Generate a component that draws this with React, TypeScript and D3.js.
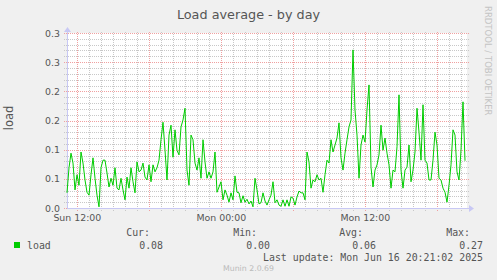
import React from "react";
import * as d3 from "d3";

// ---- data (load average, 10-minute samples starting Sun 11:08) ----
const startHour = 11.139;
const stepHours = 10 / 60;
const loadValues = [
  0.026, 0.069, 0.094, 0.077, 0.031, 0.057, 0.039, 0.096, 0.077, 0.048,
  0.027, 0.022, 0.057, 0.086, 0.051, 0.022, 0.002, 0.069, 0.082, 0.082,
  0.060, 0.036, 0.051, 0.039, 0.069, 0.034, 0.031, 0.051, 0.031, 0.014,
  0.053, 0.034, 0.069, 0.045, 0.026, 0.079, 0.062, 0.065, 0.077, 0.053,
  0.048, 0.074, 0.045, 0.074, 0.062, 0.069, 0.082, 0.117, 0.147, 0.099,
  0.048, 0.125, 0.142, 0.087, 0.134, 0.099, 0.091, 0.139, 0.151, 0.171,
  0.065, 0.039, 0.125, 0.117, 0.077, 0.065, 0.086, 0.051, 0.117, 0.079,
  0.051, 0.062, 0.051, 0.062, 0.096, 0.027, 0.036, 0.045, 0.014, 0.031,
  0.022, 0.010, 0.026, 0.014, 0.055, 0.027, 0.026, 0.009, 0.021, 0.010,
  0.015, 0.007, 0.012, 0.002, 0.051, 0.031, 0.007, 0.009, 0.026, 0.012,
  0.005, 0.014, 0.022, 0.045, 0.009, 0.014, 0.005, 0.003, 0.014, 0.003,
  0.014, 0.003, 0.019, 0.017, 0.005, 0.019, 0.029, 0.026, 0.026, 0.014,
  0.096, 0.079, 0.034, 0.048, 0.045, 0.057, 0.048, 0.051, 0.027, 0.057,
  0.082, 0.077, 0.117, 0.096, 0.108, 0.120, 0.146, 0.086, 0.065, 0.094,
  0.117, 0.139, 0.151, 0.271, 0.168, 0.125, 0.051, 0.108, 0.125, 0.113,
  0.168, 0.211, 0.070, 0.036, 0.065, 0.074, 0.091, 0.142, 0.099, 0.120,
  0.094, 0.074, 0.034, 0.065, 0.062, 0.105, 0.194, 0.065, 0.034, 0.065,
  0.070, 0.108, 0.045, 0.065, 0.096, 0.171, 0.130, 0.082, 0.177, 0.082,
  0.077, 0.048, 0.048, 0.082, 0.130, 0.108, 0.051, 0.048, 0.034, 0.027,
  0.010, 0.039, 0.074, 0.134, 0.125, 0.062, 0.048, 0.099, 0.182, 0.081,
];

const yTickValues = [0, 0.05, 0.1, 0.15, 0.2, 0.25, 0.3];
const yTickLabels = ["0.0", "0.1", "0.1", "0.2", "0.2", "0.3", "0.3"];
const xTickHours = [12, 24, 36];
const xTickLabels = ["Sun 12:00", "Mon 00:00", "Mon 12:00"];

const legendHeaders = ["Cur:", "Min:", "Avg:", "Max:"];
const legendValues = ["0.08", "0.00", "0.06", "0.27"];
const lastUpdate = "Last update: Mon Jun 16 20:21:02 2025";

export default function App() {
  const left = 67, right = 467, top = 33, bottom = 208;
  const endHour = startHour + (right - left) / 12;
  const x = d3.scaleLinear().domain([startHour, endHour]).range([left, right]);
  const y = d3.scaleLinear().domain([0, 0.3]).range([bottom, top]);

  const pts = loadValues.map((v, i) => [startHour + i * stepHours, v] as [number, number]);
  const line = d3.line<[number, number]>().x((d) => x(d[0])).y((d) => y(d[1]));

  const minorY = d3.range(0, 31).map((k) => k / 100).filter((v) => Math.round(v * 100) % 5 !== 0);
  const hours = d3.range(Math.ceil(startHour), Math.floor(endHour) + 1);

  const sans = "'DejaVu Sans', sans-serif";
  const mono = "'DejaVu Sans Mono', monospace";
  const txt = "#555";
  const axisCol = "#c8c8f4";
  const minorCol = "#c8c8c8";
  const majorCol = "#f0a0a0";

  const legendHeaderX = [150, 257, 363, 470];
  const legendValueX = [163, 270, 376, 483];

  return (
    <svg width={497} height={280} style={{ position: "absolute", left: 0, top: 0 }}>
      <rect x={0} y={0} width={497} height={280} fill="#f0f0f0" />
      <rect x={left} y={top} width={right - left} height={bottom - top} fill="#ffffff" />

      {/* minor horizontal grid */}
      {minorY.map((v) => (
        <line key={"mh" + v} x1={left - 3} x2={right + 2} y1={Math.round(y(v)) + 0.5} y2={Math.round(y(v)) + 0.5}
          stroke={minorCol} strokeDasharray="1,1" />
      ))}
      {/* vertical grid */}
      {hours.map((h) => (
        <line key={"v" + h} x1={Math.round(x(h)) + 0.5} x2={Math.round(x(h)) + 0.5} y1={top - 1} y2={bottom + 3}
          stroke={h % 6 === 0 ? majorCol : minorCol} strokeDasharray="1,1" />
      ))}
      {/* major horizontal grid */}
      {yTickValues.map((v) => (
        <line key={"Mh" + v} x1={left - 3} x2={right + 2} y1={Math.round(y(v)) + 0.5} y2={Math.round(y(v)) + 0.5}
          stroke={majorCol} strokeDasharray="1,1" />
      ))}

      {/* axes */}
      <line x1={left + 0.5} x2={left + 0.5} y1={bottom} y2={top - 4} stroke={axisCol} />
      <path d={`M${left - 3},${top - 1} L${left + 4},${top - 1} L${left + 0.5},${top - 6} Z`} fill={axisCol} />
      <line x1={left} x2={right + 2} y1={bottom + 0.5} y2={bottom + 0.5} stroke={axisCol} />
      <path d={`M${right + 2},${bottom - 3} L${right + 2},${bottom + 4} L${right + 7},${bottom + 0.5} Z`} fill={axisCol} />

      {/* data line */}
      <path d={line(pts) || ""} fill="none" stroke="#00cc00" strokeWidth={1} />

      {/* y tick labels */}
      {yTickValues.map((v, i) => (
        <text key={"yl" + i} x={60} y={y(v) + 3.5} textAnchor="end" fontFamily={sans} fontSize={9.4} fill={txt}>
          {yTickLabels[i]}
        </text>
      ))}
      {/* x tick labels */}
      {xTickHours.map((h, i) => (
        <text key={"xl" + i} x={x(h)} y={221} textAnchor="middle" fontFamily={sans} fontSize={9.4} fill={txt}>
          {xTickLabels[i]}
        </text>
      ))}

      {/* title */}
      <text x={248.5} y={19} textAnchor="middle" fontFamily={sans} fontSize={12.8} fill={txt}>
        Load average - by day
      </text>
      {/* y label */}
      <text transform="translate(13,118) rotate(-90)" textAnchor="middle" fontFamily={sans} fontSize={11.5} fill={txt}>
        load
      </text>
      {/* rrdtool credit */}
      <text transform="translate(485,6) rotate(90)" textAnchor="start" fontFamily={sans} fontSize={8.5} fill="#c4c4c4">
        RRDTOOL / TOBI OETIKER
      </text>

      {/* legend */}
      {legendHeaders.map((t, i) => (
        <text key={"lh" + i} x={legendHeaderX[i]} y={235.5} textAnchor="end" fontFamily={mono} fontSize={9.9} fill={txt}>
          {t}
        </text>
      ))}
      <rect x={14} y={242} width={6} height={6} fill="#00cc00" />
      <text x={27} y={248.5} fontFamily={mono} fontSize={9.9} fill={txt}>load</text>
      {legendValues.map((t, i) => (
        <text key={"lv" + i} x={legendValueX[i]} y={248.5} textAnchor="end" fontFamily={mono} fontSize={9.9} fill={txt}>
          {t}
        </text>
      ))}
      <text x={483} y={260.5} textAnchor="end" fontFamily={mono} fontSize={9.9} fill={txt}>
        {lastUpdate}
      </text>
      <text x={248.5} y={271} textAnchor="middle" fontFamily={sans} fontSize={7.8} fill="#bbbbbb">
        Munin 2.0.69
      </text>
    </svg>
  );
}
